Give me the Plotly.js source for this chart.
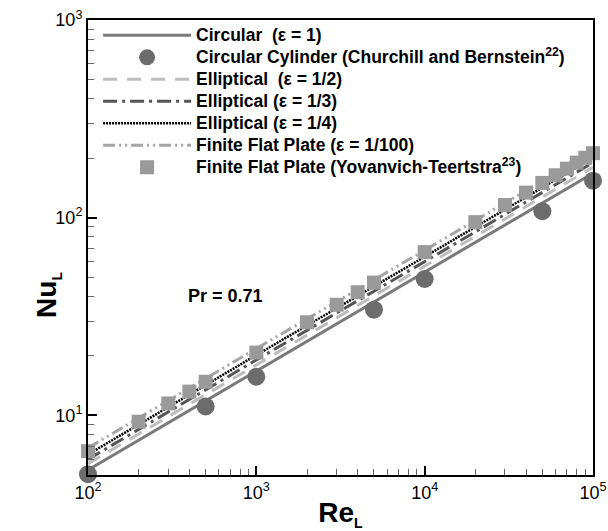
<!DOCTYPE html>
<html>
<head>
<meta charset="utf-8">
<script src="https://cdn.plot.ly/plotly-3.0.1.min.js"></script>
<style>html,body{margin:0;padding:0;background:#fff;}#chart{width:608px;height:531px;}</style>
</head>
<body>
<div id="chart"></div>
<script>
// Correlation lines (Re_L vs Nu_L)
const reLine = [100, 1000, 10000, 100000];
const nuCircular = [5.3, 16.8, 53, 168];
const nuEll2 = [5.7, 18.0, 57, 180];
const nuEll3 = [6.0, 19.1, 60, 190];
const nuEll4 = [6.35, 20.2, 63.5, 201];
const nuPlate = [6.85, 21.8, 68.5, 217];

// Churchill and Bernstein (circular cylinder)
const reCB = [100, 500, 1000, 5000, 10000, 50000, 100000];
const nuCB = [5.05, 11.1, 15.7, 34.3, 49, 108, 154];

// Yovanovich-Teertstra (finite flat plate)
const reYT = [100, 200, 300, 400, 500, 1000, 2000, 3000, 4000, 5000, 10000, 20000, 30000, 40000, 50000, 60000, 70000, 80000, 90000, 100000];
const nuYT = [6.6, 9.3, 11.5, 13.2, 14.8, 20.8, 29.6, 36.3, 42, 47, 67, 95, 116, 134, 150, 164, 177, 190, 201, 212];

const names = [
  'Circular\u00a0\u00a0(ε = 1)',
  'Circular Cylinder (Churchill and Bernstein<sup>22</sup>)',
  'Elliptical\u00a0\u00a0(ε = 1/2)',
  'Elliptical (ε = 1/3)',
  'Elliptical (ε = 1/4)',
  'Finite Flat Plate (ε = 1/100)',
  'Finite Flat Plate (Yovanvich-Teertstra<sup>23</sup>)'
];

const xTickVals = [100, 1000, 10000, 100000];
const xTickText = ['10<sup>2</sup>', '10<sup>3</sup>', '10<sup>4</sup>', '10<sup>5</sup>'];
const yTickVals = [10, 100, 1000];
const yTickText = ['10<sup>1</sup>', '10<sup>2</sup>', '10<sup>3</sup>'];

function minorVals(lo, hi) {
  const out = [];
  for (let d = lo; d < hi; d *= 10) for (let k = 2; k <= 9; k++) out.push(d * k);
  return out;
}

const FONT = 'Liberation Sans, Arial, sans-serif';
const big = s => '<span style="font-size:17.5px">' + s + '</span>';

const traces = [
  {x: reLine, y: nuCircular, name: big(names[0]), mode: 'lines', legendrank: 1,
   line: {color: '#7a7a7a', width: 3, dash: 'solid'}},
  {x: reLine, y: nuEll2, name: big(names[2]), mode: 'lines', legendrank: 3,
   line: {color: '#bdbdbd', width: 3, dash: '14px,10px'}},
  {x: reLine, y: nuEll3, name: big(names[3]), mode: 'lines', legendrank: 4,
   line: {color: '#555555', width: 3, dash: '14px,5px,3px,5px'}},
  {x: reLine, y: nuEll4, name: big(names[4]), mode: 'lines', legendrank: 5,
   line: {color: '#000000', width: 2.5, dash: '2px,1px'}},
  {x: reLine, y: nuPlate, name: big(names[5]), mode: 'lines', legendrank: 6,
   line: {color: '#a5a5a5', width: 3, dash: '12px,4px,2px,4px,2px,4px'}},
  {x: reCB, y: nuCB, name: big(names[1]), mode: 'markers', legendrank: 2, cliponaxis: false,
   marker: {symbol: 'circle', size: 18, color: '#6c6c6c'}},
  {x: reYT, y: nuYT, name: big(names[6]), mode: 'markers', legendrank: 7, cliponaxis: false,
   marker: {symbol: 'square', size: 14, color: '#9a9a9a'}}
];

const axisCommon = {
  type: 'log', showgrid: false, zeroline: false,
  showline: true, linecolor: '#000', linewidth: 2, mirror: true,
  ticks: 'inside', ticklen: 9, tickwidth: 2, tickcolor: '#000',
  tickmode: 'array',
  tickfont: {family: FONT, size: 18, color: '#000'}
};

const layout = {
  width: 608, height: 531,
  margin: {l: 88, r: 15, t: 20, b: 56},
  paper_bgcolor: '#fff', plot_bgcolor: '#fff',
  showlegend: true,
  xaxis: Object.assign({}, axisCommon, {
    range: [2, 5],
    tickvals: xTickVals, ticktext: xTickText,
    minor: {tickmode: 'array', tickvals: minorVals(100, 100000), ticks: 'inside', ticklen: 6, tickwidth: 1, tickcolor: '#666', showgrid: false},
    title: {text: '<b>Re<sub><span style="font-size:14px">L</span></sub></b>', font: {family: FONT, size: 28, color: '#000'}, standoff: 2}
  }),
  yaxis: Object.assign({}, axisCommon, {
    range: [Math.log10(5), 3],
    tickvals: yTickVals, ticktext: yTickText,
    minor: {tickmode: 'array', tickvals: minorVals(1, 1000).filter(v => v > 5), ticks: 'inside', ticklen: 6, tickwidth: 1, tickcolor: '#666', showgrid: false},
    title: {text: ''}
  }),
  legend: {
    x: 0.02, y: 1.0015, xanchor: 'left', yanchor: 'top',
    bgcolor: 'rgba(255,255,255,0)', borderwidth: 0,
    itemwidth: 88, tracegroupgap: 0,
    font: {family: FONT, size: 14.6, color: '#000', weight: 'bold'}
  },
  annotations: [
    {xref: 'paper', yref: 'paper', x: 0.273, y: 0.393, xanchor: 'center', yanchor: 'middle', showarrow: false,
     text: '<b>Pr = 0.71</b>', font: {family: FONT, size: 18, color: '#000'}},
    {xref: 'paper', yref: 'paper', x: -0.079, y: 0.396, xanchor: 'center', yanchor: 'middle', showarrow: false,
     textangle: -90, text: '<b>Nu<sub><span style="font-size:14px">L</span></sub></b>',
     font: {family: FONT, size: 28, color: '#000'}}
  ]
};

Plotly.newPlot('chart', traces, layout, {displayModeBar: false, staticPlot: true});
</script>
</body>
</html>
